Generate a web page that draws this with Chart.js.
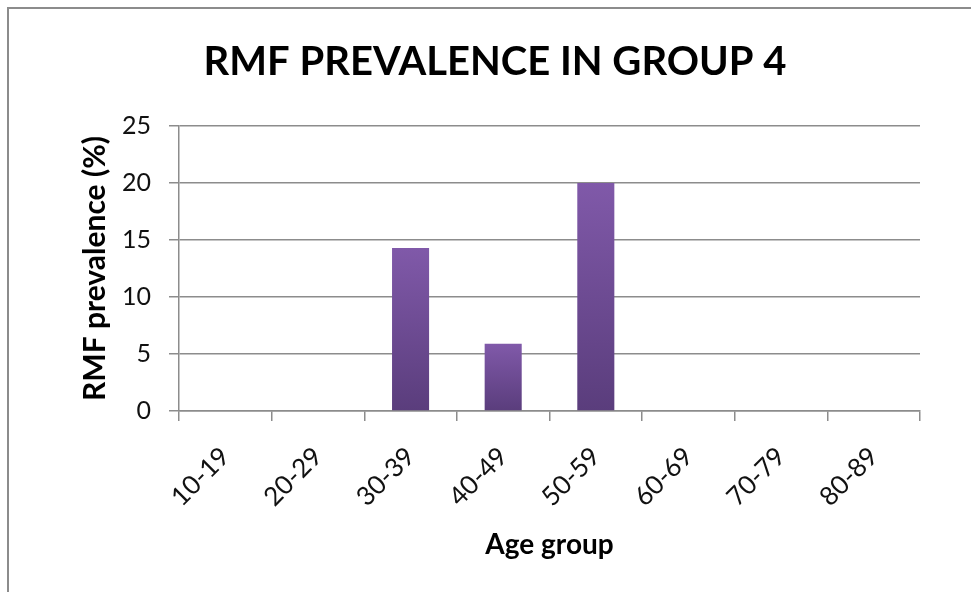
<!DOCTYPE html>
<html>
<head>
<meta charset="utf-8">
<script src="https://cdn.jsdelivr.net/npm/chart.js@4/dist/chart.umd.min.js"></script>
<style>
  html, body { margin: 0; padding: 0; background: #fff; }
  #wrap { position: relative; width: 971px; height: 592px; overflow: hidden; }
  #frame { position: absolute; left: 7px; top: 7px; right: -10px; bottom: -10px;
           border-top: 2px solid #8c8c8c; border-left: 2px solid #8c8c8c; pointer-events: none; }
  canvas { display: block; }
</style>
</head>
<body>
<div id="wrap">
  <canvas id="chart" width="971" height="592"></canvas>
  <div id="frame"></div>
</div>
<script>
// Age bands on the category axis
const ageGroups = ['10-19', '20-29', '30-39', '40-49', '50-59', '60-69', '70-79', '80-89'];
// RMF prevalence per age band (%)
const prevalence = [0, 0, 14.3, 5.9, 20, 0, 0, 0];
// Value axis range
const yMin = 0;
const yMax = 25;
const yStep = 5;

const FONT = 'Lato, "Open Sans", sans-serif';
const GRID = '#8c8c8c';

function barGradient(ctx) {
  const chart = ctx.chart;
  const area = chart.chartArea;
  if (!area) return '#6f4d97';
  const y = chart.scales.y;
  const top = y.getPixelForValue(ctx.raw || 0);
  const bottom = y.getPixelForValue(0);
  if (top === bottom) return '#6f4d97';
  const g = chart.ctx.createLinearGradient(0, top, 0, bottom);
  g.addColorStop(0, '#8059a9');
  g.addColorStop(1, '#5a3d7c');
  return g;
}

new Chart(document.getElementById('chart'), {
  type: 'bar',
  data: {
    labels: ageGroups,
    datasets: [{
      data: prevalence,
      backgroundColor: barGradient,
      borderWidth: 0,
      barPercentage: 0.4,
      categoryPercentage: 1.0
    }]
  },
  options: {
    responsive: false,
    animation: false,
    devicePixelRatio: 1,
    layout: { padding: { left: 70, right: 51, top: 0, bottom: 0 } },
    plugins: {
      legend: { display: false },
      tooltip: { enabled: false },
      title: {
        display: true,
        text: 'RMF PREVALENCE IN GROUP 4',
        color: '#000',
        font: { family: FONT, size: 40, weight: 'bold', lineHeight: 1.2 },
        padding: { top: 38, bottom: 40 }
      }
    },
    scales: {
      x: {
        offset: true,
        grid: { display: true, drawOnChartArea: false, offset: true, tickLength: 10, color: GRID, lineWidth: 1.5 },
        border: { display: true, color: GRID, width: 1.5 },
        ticks: {
          color: '#111',
          font: { family: FONT, size: 26 },
          minRotation: 45, maxRotation: 45,
          padding: 20
        },
        title: {
          display: true,
          text: 'Age group',
          color: '#000',
          font: { family: FONT, size: 28, weight: 'bold', lineHeight: 1.2 },
          padding: { top: 0, bottom: 30 }
        },
        afterFit: (s) => { s.height = 592 - 411; }
      },
      y: {
        min: yMin, max: yMax,
        ticks: { stepSize: yStep, color: '#111', font: { family: FONT, size: 25 }, padding: 18 },
        grid: { color: GRID, lineWidth: 1.5, tickLength: 10 },
        border: { display: true, color: GRID, width: 1.5 },
        title: {
          display: true,
          text: 'RMF prevalence (%)',
          color: '#000',
          font: { family: FONT, size: 30, weight: 'bold', lineHeight: 1.2 },
          padding: { top: 7, bottom: 0 }
        },
        afterFit: (s) => { s.width = 179 - 70; }
      }
    }
  }
});
</script>
</body>
</html>
